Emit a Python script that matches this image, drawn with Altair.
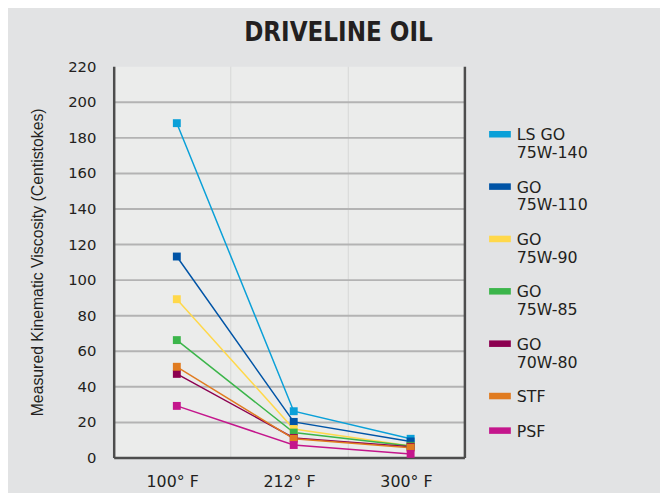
import altair as alt
import pandas as pd

temps = ["100° F", "212° F", "300° F"]
series = ["LS GO|75W-140", "GO|75W-110", "GO|75W-90", "GO|75W-85", "GO|70W-80", "STF", "PSF"]
colors = ["#0aa0d8", "#0054a6", "#ffd84a", "#3bb54a", "#8c0050", "#e07b20", "#c4168c"]
v100 = [188, 113, 89, 66, 47, 51, 29]
v212 = [26, 20, 16, 14, 11, 10.5, 7]
v300 = [10.5, 9, 6.5, 6.5, 6, 5.5, 2]

rows = []
for i, s in enumerate(series):
    for t, vals in zip(temps, [v100, v212, v300]):
        rows.append({"oil": s, "temp": t, "visc": vals[i]})
df = pd.DataFrame(rows)

dark = "#4d4d4d"
ink = "#231f20"

x_enc = alt.X(
    "temp:N",
    sort=temps,
    bandPosition=0.54,
    scale=alt.Scale(type="band", paddingInner=0, paddingOuter=0),
    axis=alt.Axis(
        tickBand="extent", grid=True, gridColor="#d6d7d6", gridWidth=1,
        ticks=False, domainColor=dark, domainWidth=2.5,
        labelFont="DejaVu Sans", labelFontSize=16, labelColor=ink,
        labelPadding=16, labelAngle=0, title=None,
    ),
)

y_scale = alt.Scale(domain=[0, 220], nice=False)

y_left = alt.Y(
    "visc:Q",
    scale=y_scale,
    axis=alt.Axis(
        values=list(range(0, 221, 20)), grid=True, gridColor="#b3b3b3", gridWidth=2,
        gridOpacity=alt.condition("datum.value >= 220", alt.value(0), alt.value(1)),
        ticks=False, domainColor=dark, domainWidth=2.5,
        labelFont="DejaVu Sans", labelFontSize=15, labelColor=ink, labelPadding=18,
        title="Measured Kinematic Viscosity (Centistokes)",
        titleFont="Liberation Sans", titleFontSize=16, titleFontWeight="normal",
        titleColor=ink, titleX=-77, titleY=198, titleAngle=270,
        titleAlign="center", titleBaseline="middle",
    ),
)

y_right = alt.Y(
    "visc:Q",
    scale=y_scale,
    axis=alt.Axis(orient="right", labels=False, ticks=False, grid=False,
                  domainColor=dark, domainWidth=2.5, title=None),
)

color_scale = alt.Scale(domain=series, range=colors)

legend = alt.Legend(
    orient="none", legendX=380, legendY=51, title=None,
    symbolType="M-1,0.32H1V0.92H-1Z", symbolSize=484, symbolStrokeWidth=0,
    symbolOpacity=1,
    labelFont="DejaVu Sans", labelFontSize=16, labelColor=ink,
    labelBaseline="top", labelExpr="split(datum.label, '|')",
    rowPadding=8, labelOffset=6, padding=0, labelLimit=200,
)

lines = alt.Chart(df).mark_line(strokeWidth=1.5).encode(
    x=x_enc,
    y=y_left,
    color=alt.Color("oil:N", scale=color_scale, legend=legend),
)

points = alt.Chart(df).mark_point(shape="square", filled=True, size=64, opacity=1).encode(
    x=x_enc,
    y=y_right,
    color=alt.Color("oil:N", scale=color_scale, legend=legend),
)

chart = (
    alt.layer(lines, points)
    .resolve_axis(y="independent")
    .properties(
        width=355, height=396,
        autosize=alt.AutoSizeParams(type="none"),
        padding={"left": 107, "top": 56, "right": 198, "bottom": 33},
        background="#e2e3e4",
        title=alt.TitleParams(
            "DRIVELINE OIL", font="'DejaVu Sans Condensed', 'Liberation Sans', sans-serif",
            fontWeight="bold", fontSize=26, color=ink, anchor="middle", frame="group",
            dx=50, offset=14,
        ),
    )
    .configure_view(fill="#ebeceb", stroke="transparent")
)

chart.save("out.html", embed_options={"renderer": "svg", "actions": False})
